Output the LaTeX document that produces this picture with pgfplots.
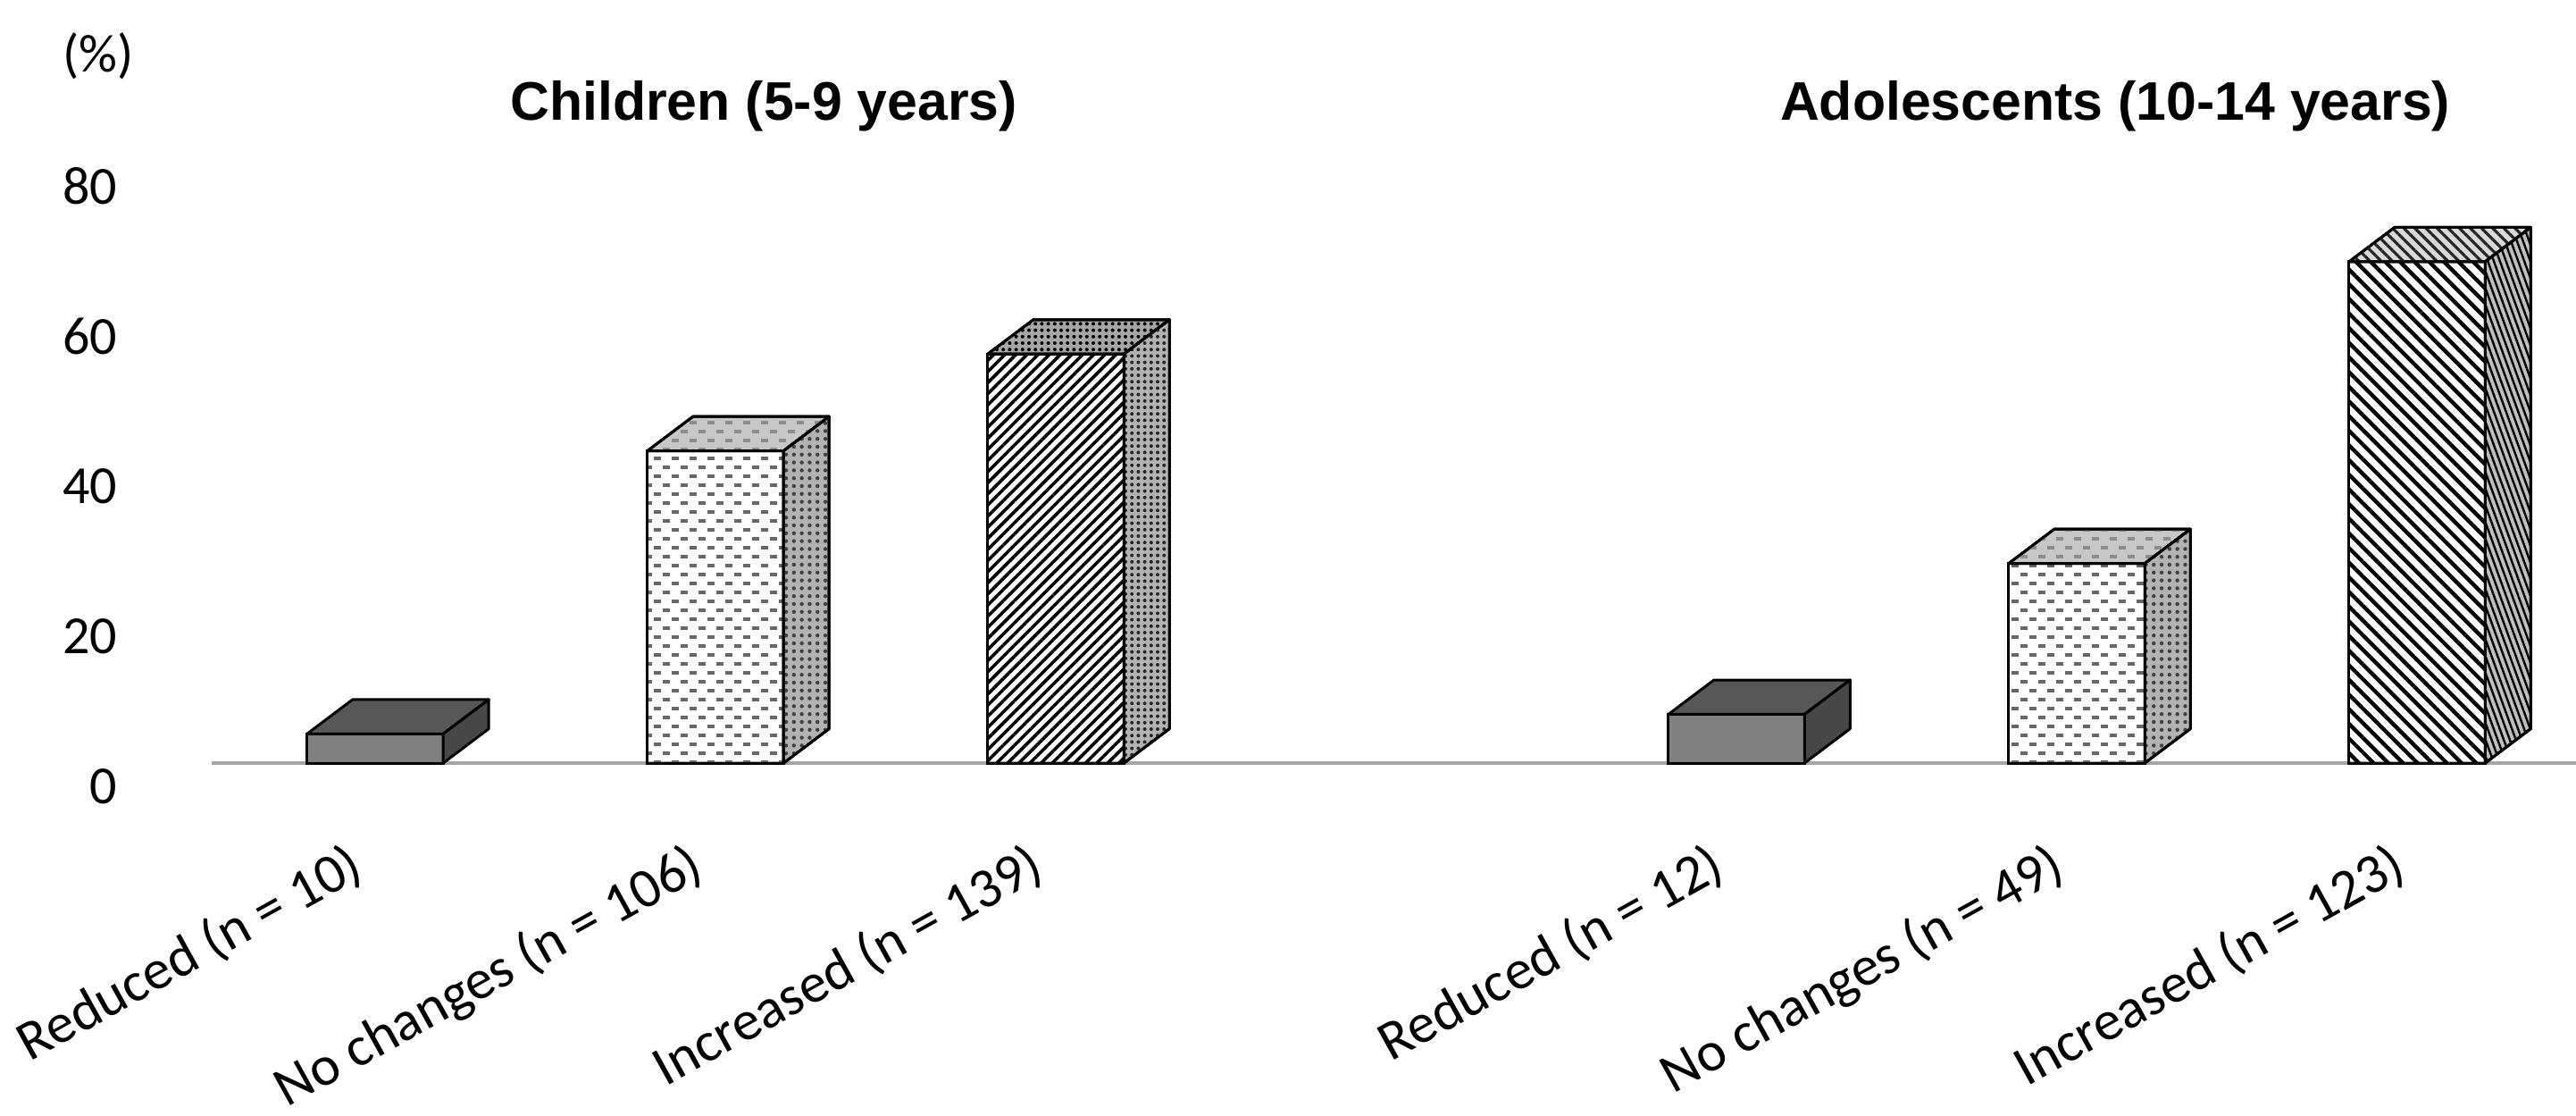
\documentclass[border=0pt]{standalone}
\usepackage{pgfplots}
\usepackage{pgfplotstable}
\pgfplotsset{compat=1.18}
\usetikzlibrary{patterns,patterns.meta}
\usepackage{fontspec}
\setmainfont{Carlito}
\newfontfamily\tfont{Liberation Sans}

% short horizontal dashes, rows staggered
\pgfdeclarepatternformonly{hdash}{\pgfqpoint{-1pt}{-1pt}}{\pgfqpoint{6pt}{6pt}}{\pgfqpoint{5pt}{5pt}}{%
  \pgfsetlinewidth{0.8pt}%
  \pgfpathmoveto{\pgfqpoint{0.5pt}{1.25pt}}\pgfpathlineto{\pgfqpoint{2.5pt}{1.25pt}}%
  \pgfpathmoveto{\pgfqpoint{3pt}{3.75pt}}\pgfpathlineto{\pgfqpoint{5pt}{3.75pt}}%
  \pgfusepath{stroke}}
\pgfdeclareplotmark{nomark}{}

\tikzset{
  topface/.style={fill=gray},
  sideface/.style={fill=gray},
  faceedge/.style={draw=black, line width=0.75pt, line join=round},
}

% top and side faces of a bar, drawn at each data point
\pgfplotsset{
  box3d/.style={
    scatter, only marks, mark=nomark,
    visualization depends on={y \as \val},
    scatter/@pre marker code/.code={%
      \pgfkeys{/pgf/fpu=true,/pgf/fpu/output format=fixed}%
      \pgfmathsetmacro\hh{\val*2.1}%
      \pgfkeys{/pgf/fpu=false}%
      \path[faceedge, topface]
        (-19.05pt,0pt) -- ++(12.75pt,9.6pt) -- ++(38.1pt,0pt) -- ++(-12.75pt,-9.6pt) -- cycle;
      \path[faceedge, sideface]
        (19.05pt,0pt) -- ++(12.75pt,9.6pt) -- ++(0pt,-\hh pt) -- ++(-12.75pt,-9.6pt) -- cycle;
    },
    scatter/@post marker code/.code={},
  },
  front/.style={ybar, bar width=0.4, bar shift=0pt, draw=black, line width=0.75pt},
}

\pgfplotstableread{
x y
0 3.9
4 6.5
}\reduced
\pgfplotstableread{
x y
1 41.6
5 26.6
}\nochange
\pgfplotstableread{
x y
2 54.5
}\incchild
\pgfplotstableread{
x y
6 66.8
}\incadol

\begin{document}
\begin{tikzpicture}
\begin{axis}[
    x=95.25pt, y=2.1pt,
    xmin=-1.1024, xmax=6.467,
    ymin=-46.9, ymax=101.67,
    clip=false,
    axis line style={draw=none},
    major tick length=0pt,
    ytick={0,20,40,60,80},
    yticklabels={0,20,40,60,80},
    yticklabel style={font=\fontsize{15}{18}\selectfont, anchor=east, inner sep=0pt, xshift=33pt, yshift=-6.5pt},
    xtick={0,1,2,4,5,6},
    xticklabels={Reduced (n = 10), No changes (n = 106), Increased (n = 139),
                 Reduced (n = 12), No changes (n = 49), Increased (n = 123)},
    xticklabel style={font=\fontsize{15.7}{18}\selectfont, anchor=north east, inner sep=0pt,
                      xshift=-8.1pt, yshift=77.3pt, rotate=29},
]
\draw[line width=1pt, draw={rgb,255:red,165;green,165;blue,165}] (axis cs:-0.48,0) -- (axis cs:6.47,0);

% Reduced
\addplot[box3d,
  /tikz/topface/.style={fill=black!66},
  /tikz/sideface/.style={fill=black!72}] table {\reduced};
\addplot[front, fill=black!50] table {\reduced};

% No changes
\addplot[box3d,
  /tikz/topface/.style={fill=black!22, postaction={pattern=hdash, pattern color=black!45}},
  /tikz/sideface/.style={fill=black!30, postaction={pattern={Dots[distance=2.2pt, radius=0.55pt]}, pattern color=black!75}}] table {\nochange};
\addplot[front, pattern=hdash, pattern color=black!60] table {\nochange};

% Increased, children
\addplot[box3d,
  /tikz/topface/.style={fill=black!35, postaction={pattern={Dots[distance=1.8pt, radius=0.5pt]}, pattern color=black}},
  /tikz/sideface/.style={fill=black!30, postaction={pattern={Dots[distance=1.8pt, radius=0.5pt]}, pattern color=black!85}}] table {\incchild};
\addplot[front, pattern={Lines[angle=45, distance=2.2pt, line width=0.9pt]}, pattern color=black] table {\incchild};

% Increased, adolescents
\addplot[box3d,
  /tikz/topface/.style={fill=black!15, postaction={pattern={Lines[angle=-45, distance=2.2pt, line width=0.8pt]}, pattern color=black!85}},
  /tikz/sideface/.style={fill=black!25, postaction={pattern={Lines[angle=-70, distance=1.6pt, line width=0.6pt]}, pattern color=black}}] table {\incadol};
\addplot[front, pattern={Lines[angle=-45, distance=2.9pt, line width=1.1pt]}, pattern color=black] table {\incadol};

\node[font=\fontsize{15}{18}\selectfont, anchor=center] at (axis cs:-0.814,94.2) {(\%)};
\node[font=\tfont\bfseries\fontsize{15.2}{18}\selectfont, anchor=base] at (axis cs:1.142,85.6) {Children (5-9 years)};
\node[font=\tfont\bfseries\fontsize{15.2}{18}\selectfont, anchor=base] at (axis cs:5.113,85.6) {Adolescents (10-14 years)};
\end{axis}
\pgfresetboundingbox
\path[use as bounding box] (current axis.south west) rectangle (current axis.north east);
\end{tikzpicture}
\end{document}
